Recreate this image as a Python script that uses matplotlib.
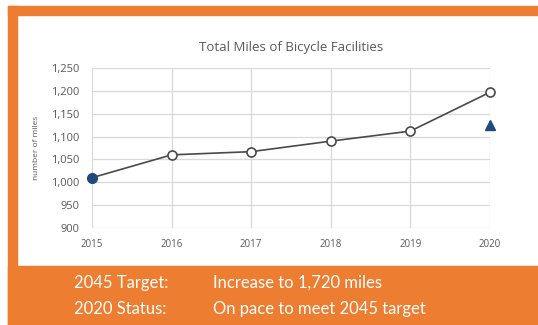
import matplotlib.pyplot as plt
from matplotlib.patches import Rectangle

years = [2015, 2016, 2017, 2018, 2019, 2020]
miles = [1010, 1060, 1067, 1090, 1112, 1197]
target_year = 2020
target_miles = 1125
y_ticks = [900, 950, 1000, 1050, 1100, 1150, 1200, 1250]

orange = "#ED7D31"
navy = "#1F4A7E"
line_gray = "#4A4A4A"
grid_gray = "#D9D9D9"
text_gray = "#595959"

W, H = 538, 325
fig = plt.figure(figsize=(W / 100, H / 100), dpi=100)
plt.rcParams["font.family"] = ["Open Sans", "DejaVu Sans"]

# orange frame: top bar, left bar, bottom band
fig.patches.append(Rectangle((8 / W, 1 - 15 / H), 1 - 8 / W, 9 / H,
                             transform=fig.transFigure, color=orange, zorder=0))
fig.patches.append(Rectangle((8 / W, 0), 9 / W, 1 - 6 / H,
                             transform=fig.transFigure, color=orange, zorder=0))
fig.patches.append(Rectangle((8 / W, 0), 1 - 8 / W, 59 / H,
                             transform=fig.transFigure, color=orange, zorder=0))

ax = fig.add_axes([92 / W, 1 - 228 / H, 398 / W, 160 / H])
ax.plot(years, miles, color=line_gray, lw=1.2, zorder=3, clip_on=False)
ax.plot(years[1:], miles[1:], "o", ms=6.5, mfc="white", mec=line_gray, mew=1.2,
        zorder=4, clip_on=False)
ax.plot(years[0], miles[0], "o", ms=7, color=navy, zorder=5, clip_on=False)
ax.plot(target_year, target_miles, "^", ms=7, color=navy, zorder=5, clip_on=False)

ax.set_xlim(2015, 2020)
ax.set_ylim(900, 1250)
ax.set_xticks(years)
ax.set_yticks(y_ticks)
ax.set_yticklabels([f"{v:,}" for v in y_ticks])
ax.tick_params(length=0, colors=text_gray, labelsize=8)
ax.tick_params(axis="x", pad=8, labelsize=7)
ax.tick_params(axis="y", pad=9)
for s in ax.spines.values():
    s.set_visible(False)
ax.grid(True, color=grid_gray, lw=0.9)
ax.set_axisbelow(True)
ax.set_ylabel("number of miles", fontsize=6, color=text_gray, labelpad=8)
ax.set_title("Total Miles of Bicycle Facilities", fontsize=9.5, color=text_gray, pad=12)

foot = dict(color="white", fontsize=12, va="center", family=["Lato", "DejaVu Sans"])
fig.text(74 / W, 1 - 283 / H, "2045 Target:", **foot)
fig.text(213 / W, 1 - 283 / H, "Increase to 1,720 miles", **foot)
fig.text(74 / W, 1 - 309 / H, "2020 Status:", **foot)
fig.text(213 / W, 1 - 309 / H, "On pace to meet 2045 target", **foot)

fig.savefig("out.png", dpi=100)
